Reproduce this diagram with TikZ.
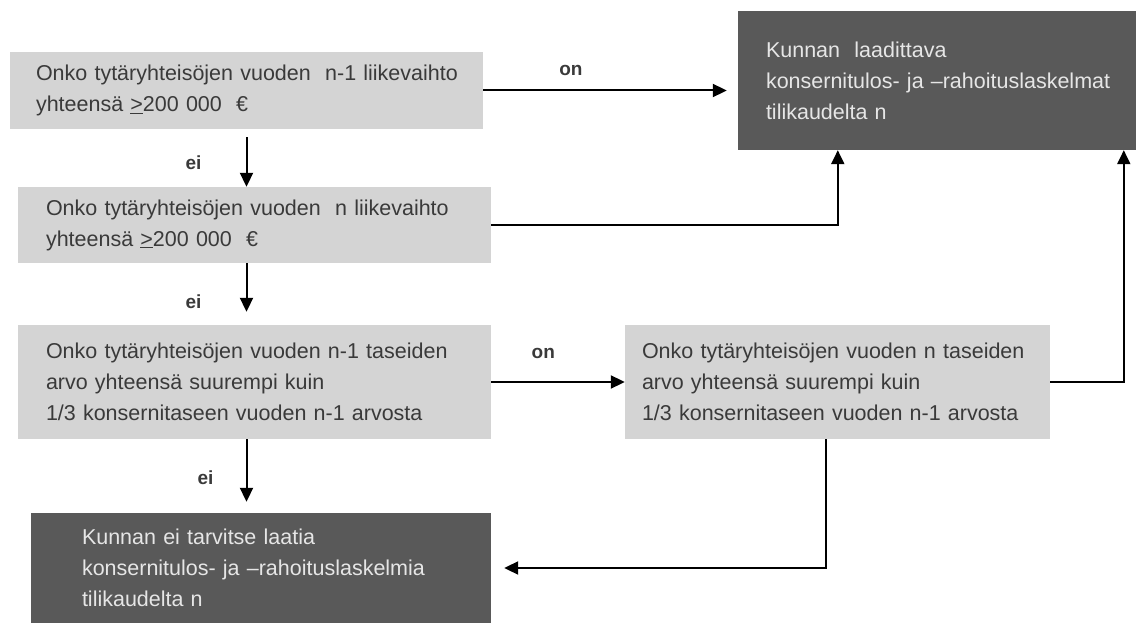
\documentclass[tikz,border=0pt]{standalone}
\usepackage{fontspec}
\setmainfont{Liberation Sans}
\usetikzlibrary{%
  positioning
 ,arrows.meta
 ,calc
}
\definecolor{boxlight}{HTML}{D4D4D4}
\definecolor{boxdark}{HTML}{595959}
\definecolor{txtdark}{HTML}{3A3A3A}
\definecolor{txtlight}{HTML}{E6E6E6}
\tikzstyle{qbox}=[rectangle,draw=none,fill=boxlight,text=txtdark,align=left,inner ysep=0pt,font=\fontsize{21.5}{31}\selectfont]
\tikzstyle{rbox}=[qbox,fill=boxdark,text=txtlight]
\tikzstyle{conn}=[line width=2pt,-{Triangle[length=14pt,width=13pt]}]
\tikzstyle{lbl}=[font=\fontsize{19}{21}\selectfont\bfseries,text=txtdark,inner sep=0pt]

\begin{document}
\begin{tikzpicture}[x=1pt,y=-1pt]
  \useasboundingbox (0,0) rectangle (1136,623);
  % kysymykset
  \node[qbox,minimum width=473pt,minimum height=77pt,inner xsep=26pt,text width=421pt] (q1) at (246.5,90.5)
    {\mbox{Onko tytäryhteisöjen vuoden \ n-1 liikevaihto}\\yhteensä \underline{>}200 000 \ €};
  \node[qbox,minimum width=473pt,minimum height=76pt,inner xsep=28pt,text width=417pt] (q2) at (254.5,225)
    {Onko tytäryhteisöjen vuoden \ n liikevaihto\\yhteensä \underline{>}200 000 \ €};
  \node[qbox,minimum width=473pt,minimum height=114pt,inner xsep=28pt,text width=417pt] (q3) at (254.5,382)
    {Onko tytäryhteisöjen vuoden n-1 taseiden\\arvo yhteensä suurempi kuin\\1/3 konsernitaseen vuoden n-1 arvosta};
  \node[qbox,minimum width=425pt,minimum height=114pt,inner xsep=17pt,text width=391pt] (q4) at (837.5,382)
    {Onko tytäryhteisöjen vuoden n taseiden\\arvo yhteensä suurempi kuin\\1/3 konsernitaseen vuoden n-1 arvosta};
  % tulokset
  \node[rbox,minimum width=420pt,minimum height=139pt,inner xsep=28pt,text width=364pt] (res) at (948,80.5)
    {Kunnan \ laadittava\\konsernitulos- ja –rahoituslaskelmat\\tilikaudelta n};
  \node[rbox,minimum width=460pt,minimum height=110pt,inner xsep=51pt,text width=358pt] (nores) at (261,568)
    {Kunnan ei tarvitse laatia\\konsernitulos- ja –rahoituslaskelmia\\tilikaudelta n};
  \coordinate (r1) at ($(res.south west)+(100,0)$);
  \coordinate (r2) at ($(res.south west)+(386,0)$);
  \path[conn]
    (q1.east) edge node[lbl,pos=0.36,above=14pt] (on1) {on} ($(q1.east -| res.west)+(-11,0)$)
    (q2.east) edge[to path={-| (\tikztotarget)}] node[lbl,pos=0.115,above=21.5pt] (on2) {on} (r1)
    (q3.east) edge node[lbl,pos=0.39,above=22.5pt] (on3) {on} (q3.east -| q4.west)
    (q4.east) edge[to path={-| (\tikztotarget)}] node[lbl,pos=0.25,above=20.5pt] (on4) {on} (r2)
    ($(q1.south)+(0,8)$) edge node[lbl,pos=0.52,left=44pt] (ei1) {ei} (q1.south |- q2.north)
    (q2.south -| q1.south) edge node[lbl,pos=0.8,left=44pt] (ei2) {ei} ($(q3.north -| q1.south)+(0,-13)$)
    (q3.south -| q1.south) edge node[lbl,pos=0.62,left=32pt] (ei3) {ei} ($(nores.north -| q1.south)+(0,-11)$)
    ($(q4.south)+(-12,0)$) edge[to path={|- (\tikztotarget)}] node[lbl,pos=0.256,left=41pt] (ei4) {ei} ($(nores.east)+(13,0)$);
\end{tikzpicture}
\end{document}
